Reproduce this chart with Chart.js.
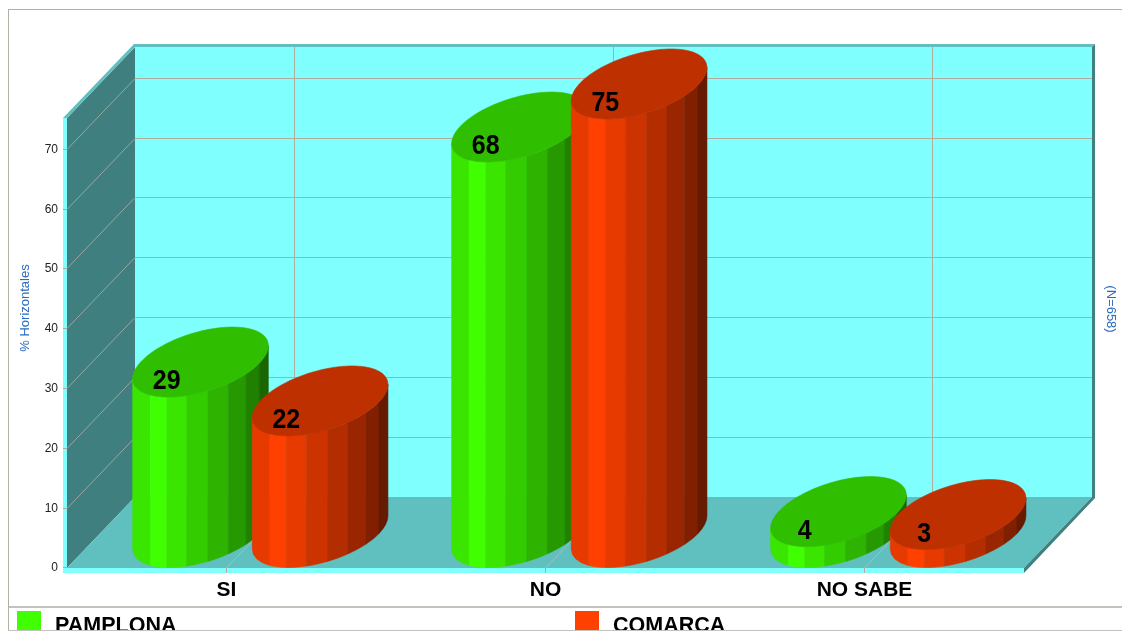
<!DOCTYPE html>
<html>
<head>
<meta charset="utf-8">
<style>html,body{margin:0;padding:0;background:#fff}canvas{display:block}</style>
<script src="https://cdn.jsdelivr.net/npm/chart.js@4/dist/chart.umd.min.js"></script>
</head>
<body>
<div style="width:1122px;height:632px"><canvas id="c" width="1122" height="632"></canvas></div>
<script>
const categories = ["SI", "NO", "NO SABE"];
const pamplona = [28.5, 67.8, 3.5];
const comarca = [22, 75, 3];
const seriesNames = ["PAMPLONA", "COMARCA"];
const seriesRGB = [[64, 255, 0], [255, 64, 0]];
const tickValues = [0, 10, 20, 30, 40, 50, 60, 70];
const yTitle = "% Horizontales";
const rightNote = "(N=658)";

const DX = 68, DY = 71;              // depth of the 3D box
const FONT = '"Liberation Sans", Arial, sans-serif';
const shades = [0.9, 1, 0.9, 0.8, 0.7, 0.6, 0.5, 0.4];
const shade = (rgb, m) => `rgb(${rgb.map(v => Math.round(v * m)).join(",")})`;

function poly(ctx, pts, fill) {
  ctx.beginPath();
  pts.forEach((p, i) => i ? ctx.lineTo(p[0], p[1]) : ctx.moveTo(p[0], p[1]));
  ctx.closePath();
  ctx.fillStyle = fill;
  ctx.fill();
}
function seg(ctx, x1, y1, x2, y2, col, w) {
  ctx.beginPath();
  ctx.moveTo(x1, y1); ctx.lineTo(x2, y2);
  ctx.strokeStyle = col; ctx.lineWidth = w || 1; ctx.stroke();
}

const box3d = {
  id: "box3d",
  beforeDatasetsDraw(chart) {
    const { ctx, chartArea: a, scales: { x, y } } = chart;
    const L = a.left, R = a.right, T = a.top, B = a.bottom;
    ctx.save();
    // walls
    poly(ctx, [[L + DX, T - DY], [R + DX, T - DY], [R + DX, B - DY], [L + DX, B - DY]], "#80ffff");
    poly(ctx, [[L, T], [L + DX, T - DY], [L + DX, B - DY], [L, B]], "#407f7f");
    poly(ctx, [[L, B], [L + DX, B - DY], [R + DX, B - DY], [R, B]], "#60bfbf");
    // rims
    poly(ctx, [[L - 4, T], [L + DX - 1, T - DY - 3], [R + DX + 3, T - DY - 3], [R + DX, T - DY], [L + DX, T - DY], [L, T]], "#60bfbf");
    poly(ctx, [[R + DX, T - DY], [R + DX + 3, T - DY - 3], [R + DX + 3, B - DY + 1], [R, B + 5], [R, B], [R + DX, B - DY]], "#408080");
    poly(ctx, [[L - 4, T], [L, T], [L, B], [R, B], [R, B + 5], [L - 4, B + 5]], "#80ffff");
    // grid
    const grid = "#b0aca0";
    tickValues.forEach(v => {
      if (v === 0) return;
      const p = Math.floor(y.getPixelForValue(v)) + 0.5;
      seg(ctx, L, p, L + DX, p - DY, "#9aa6a2");
      seg(ctx, L - 4, p, L, p, grid);
      seg(ctx, L + DX, p - DY, R + DX, p - DY, grid);
    });
    seg(ctx, L - 4, B - 0.5, L, B - 0.5, grid);
    categories.forEach((c, i) => {
      const p = Math.floor(x.getPixelForValue(i)) + 0.5;
      seg(ctx, p + DX, T - DY, p + DX, B - DY, grid);
      seg(ctx, p, B + 5, p, B, grid);
      seg(ctx, p, B, p + DX, B - DY, "#9cc4c0");
    });
    ctx.restore();
  },
  afterDatasetsDraw(chart) {
    const { ctx } = chart;
    const step = 18, phase = -1.6;
    ctx.save();
    chart.data.datasets.forEach((ds, si) => {
      chart.getDatasetMeta(si).data.forEach((el) => {
        const a = el.width / 2, b = 32, c = 35;
        const cx = el.x + 33.8;
        const topY = el.y - DY / 2, baseY = el.base - DY / 2;
        const at = (deg, cy) => {
          const t = deg * Math.PI / 180;
          return [cx + a * Math.cos(t) + b * Math.sin(t), cy - c * Math.sin(t)];
        };
        const rgb = seriesRGB[si];
        const sil = Math.atan2(b, a) * 180 / Math.PI;
        shades.forEach((m, k) => {
          const t0 = k === 0 ? 180 + sil : phase + 252 + (k - 1) * step;
          const t1 = k === shades.length - 1 ? 360 + sil : phase + 252 + k * step;
          const col = shade(rgb, m);
          const q = [];
          for (let s = 0; s <= 4; s++) q.push(at(t0 + (t1 - t0) * s / 4, baseY));
          for (let s = 4; s >= 0; s--) q.push(at(t0 + (t1 - t0) * s / 4, topY));
          poly(ctx, q, col);
          ctx.strokeStyle = col; ctx.lineWidth = 0.6; ctx.stroke();
        });
        const top = [];
        for (let k = 0; k < 90; k++) top.push(at(k * 4, topY));
        const tc = shade(rgb, 0.75);
        poly(ctx, top, tc);
        ctx.strokeStyle = tc; ctx.lineWidth = 0.6; ctx.stroke();
      });
    });
    // value labels (rounded, as printed on the chart)
    chart.data.datasets.forEach((ds, si) => {
      chart.getDatasetMeta(si).data.forEach((el, i) => {
        ctx.save();
        ctx.translate(el.x, el.y - 16);
        ctx.scale(1, 1.12);
        ctx.fillStyle = "#000";
        ctx.font = "bold 25px " + FONT;
        ctx.textAlign = "center";
        ctx.textBaseline = "middle";
        ctx.fillText(String(Math.round(ds.data[i])), 0, 0);
        ctx.restore();
      });
    });
    ctx.restore();
  },
  afterDraw(chart) {
    const { ctx } = chart;
    ctx.save();
    // side notes
    ctx.fillStyle = "#2a6cc0";
    ctx.textAlign = "center";
    ctx.textBaseline = "middle";
    ctx.font = "13px " + FONT;
    ctx.save(); ctx.translate(25, 308); ctx.rotate(-Math.PI / 2); ctx.fillText(yTitle, 0, 0); ctx.restore();
    ctx.save(); ctx.translate(1111, 309); ctx.rotate(Math.PI / 2); ctx.fillText(rightNote, 0, 0); ctx.restore();
    // legend
    const xs = [17, 575];
    ctx.textAlign = "left";
    ctx.textBaseline = "alphabetic";
    ctx.font = "bold 21.5px " + FONT;
    chart.data.datasets.forEach((ds, si) => {
      ctx.fillStyle = shade(seriesRGB[si], 1);
      ctx.fillRect(xs[si], 611, 24, 20);
      ctx.fillStyle = "#000";
      ctx.fillText(ds.label, xs[si] + 38, 632);
    });
    ctx.fillStyle = "#fff";
    ctx.fillRect(0, 631, 1122, 1);
    // frame
    ctx.fillStyle = "#b4b0a0";
    ctx.fillRect(8, 9, 1114, 1);
    ctx.fillRect(8, 9, 1, 622);
    ctx.fillStyle = "#c4c2bc";
    ctx.fillRect(9, 606, 1113, 2);
    ctx.fillRect(8, 630, 1114, 1);
    ctx.restore();
  }
};

new Chart(document.getElementById("c"), {
  type: "bar",
  data: {
    labels: categories,
    datasets: [
      { label: seriesNames[0], data: pamplona, backgroundColor: "transparent", categoryPercentage: 0.75, barPercentage: 1 },
      { label: seriesNames[1], data: comarca, backgroundColor: "transparent", categoryPercentage: 0.75, barPercentage: 1 }
    ]
  },
  options: {
    responsive: false,
    animation: false,
    events: [],
    layout: { padding: { top: 118, right: 98, left: 0, bottom: 0 } },
    plugins: { legend: { display: false }, tooltip: { enabled: false }, title: { display: false } },
    scales: {
      x: {
        grid: { display: false },
        border: { display: false },
        ticks: { color: "#000", font: { family: FONT, size: 21, weight: "bold" }, padding: 2, maxRotation: 0 },
        afterFit(s) { s.height = 64; }
      },
      y: {
        min: 0, max: 75.25,
        grid: { display: false },
        border: { display: false },
        afterFit(s) { s.width = 67; },
        afterBuildTicks(s) { s.ticks = tickValues.map(v => ({ value: v })); },
        ticks: { color: "#222", font: { family: FONT, size: 12 }, padding: 1 }
      }
    }
  },
  plugins: [box3d]
});
</script>
</body>
</html>
